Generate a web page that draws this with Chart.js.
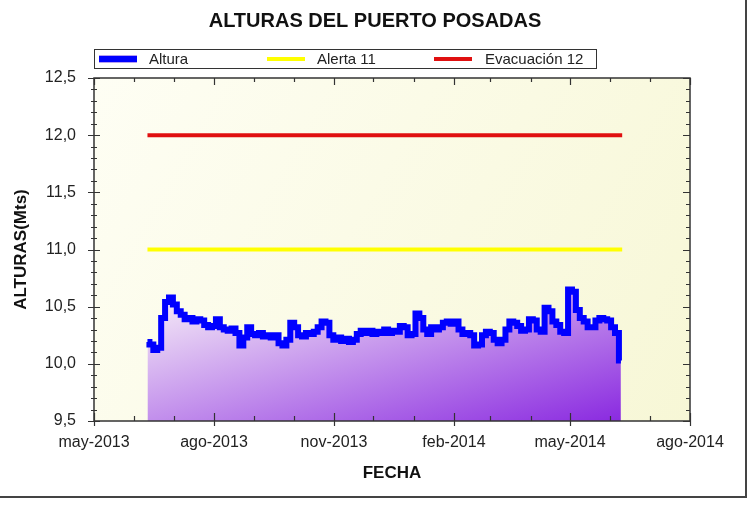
<!DOCTYPE html>
<html>
<head>
<meta charset="utf-8">
<script src="https://cdn.jsdelivr.net/npm/chart.js@4.4.1/dist/chart.umd.min.js"></script>
<style>
    html, body { margin: 0; padding: 0; background: #fff; }
    #wrap { width: 753px; height: 506px; }
</style>
</head>
<body>
<div id="wrap"><canvas id="myChart" width="753" height="506"></canvas></div>
<script>
// axis starts on 1-may-2013, x values are days from there
const axisStart = '2013-05-01';
const axisEnd = '2014-08-01';

// altura readings, one every 3 days from 11-jun-2013
const alturaStart = '2013-06-11';
const alturaStepDays = 3;
const altura = [
    10.19, 10.17, 10.12, 10.14, 10.40, 10.54, 10.58, 10.52, 10.46, 10.43,
    10.39, 10.40, 10.37, 10.39, 10.38, 10.34, 10.32, 10.33, 10.39, 10.32,
    10.30, 10.29, 10.31, 10.27, 10.16, 10.23, 10.32, 10.26, 10.25, 10.27,
    10.24, 10.25, 10.23, 10.25, 10.18, 10.16, 10.21, 10.36, 10.32, 10.25,
    10.24, 10.27, 10.26, 10.28, 10.32, 10.37, 10.36, 10.25, 10.21, 10.23,
    10.20, 10.22, 10.19, 10.21, 10.26, 10.29, 10.27, 10.29, 10.26, 10.28,
    10.27, 10.30, 10.27, 10.29, 10.28, 10.33, 10.32, 10.25, 10.26, 10.44,
    10.40, 10.30, 10.26, 10.32, 10.30, 10.32, 10.36, 10.37, 10.35, 10.37,
    10.30, 10.26, 10.27, 10.25, 10.16, 10.17, 10.25, 10.28, 10.27, 10.21,
    10.18, 10.21, 10.30, 10.37, 10.36, 10.33, 10.29, 10.30, 10.39, 10.38,
    10.30, 10.28, 10.49, 10.46, 10.37, 10.34, 10.28, 10.27, 10.65, 10.63,
    10.47, 10.40, 10.37, 10.32, 10.32, 10.38, 10.40, 10.39, 10.38, 10.32,
    10.27, 10.03
];

// reference levels, drawn over the same period as the readings
const alertaLevel = 11;
const evacuacionLevel = 12;
const levelFrom = '2013-06-11';
const levelTo = '2014-06-10';

// axis ticks
const xTickDates = ['2013-05-01', '2013-08-01', '2013-11-01', '2014-02-01', '2014-05-01', '2014-08-01'];
const xTickLabels = ['may-2013', 'ago-2013', 'nov-2013', 'feb-2014', 'may-2014', 'ago-2014'];
const yMin = 9.5;
const yMax = 12.5;
const yStep = 0.5;

const seriesNames = ['Altura', 'Alerta 11', 'Evacuación 12'];
const seriesColors = ['#0000ff', '#ffff00', '#e01010'];

function dayOf(str) {
    return (Date.parse(str + 'T00:00:00Z') - Date.parse(axisStart + 'T00:00:00Z')) / 86400000;
}

const alturaPoints = altura.map((v, i) => ({x: dayOf(alturaStart) + i * alturaStepDays, y: v}));
const alertaPoints = [{x: dayOf(levelFrom), y: alertaLevel}, {x: dayOf(levelTo), y: alertaLevel}];
const evacPoints = [{x: dayOf(levelFrom), y: evacuacionLevel}, {x: dayOf(levelTo), y: evacuacionLevel}];

// monthly minor ticks along the x axis
const monthDays = [];
for (let m = 0; m <= 15; m++) {
    const d = new Date(Date.UTC(2013, 4 + m, 1));
    monthDays.push(dayOf(d.toISOString().slice(0, 10)));
}

// purple fill under the altura line (diagonal, like the original)
function alturaFill(context) {
    const chart = context.chart;
    const area = chart.chartArea;
    if (!area) return 'rgba(160,100,220,0.6)';
    const xs = chart.scales.x, ys = chart.scales.y;
    const x0 = xs.getPixelForValue(alturaPoints[0].x);
    const x1 = xs.getPixelForValue(alturaPoints[alturaPoints.length - 1].x);
    const y0 = ys.getPixelForValue(Math.max(...altura));
    const y1 = area.bottom;
    const w = x1 - x0, h = y1 - y0;
    const len = Math.sqrt(w * w + h * h);
    const proj = (2 * w * h) / len;
    const g = chart.ctx.createLinearGradient(x0, y0, x0 + h / len * proj, y0 + w / len * proj);
    g.addColorStop(0, '#faf4f8');
    g.addColorStop(1, '#8a2ae0');
    return g;
}

const framePlugin = {
    id: 'frame',
    beforeDraw(chart) {
        const {ctx, chartArea: a} = chart;
        ctx.save();
        ctx.fillStyle = '#fff';
        ctx.fillRect(0, 0, chart.width, chart.height);
        const g = ctx.createLinearGradient(a.left, a.top, a.right, a.bottom);
        g.addColorStop(0, '#fefef4');
        g.addColorStop(1, '#f7f7d6');
        ctx.fillStyle = g;
        ctx.fillRect(a.left, a.top, a.right - a.left, a.bottom - a.top);
        ctx.restore();
    },
    afterDraw(chart) {
        const {ctx, chartArea: a} = chart;
        const xs = chart.scales.x, ys = chart.scales.y;
        ctx.save();
        ctx.strokeStyle = '#333';
        ctx.lineWidth = 1.5;
        ctx.strokeRect(a.left, a.top, a.right - a.left, a.bottom - a.top);

        ctx.lineWidth = 1.2;
        ctx.beginPath();
        // y ticks, every 0.1, major on 0.5
        for (let k = 0; k <= Math.round((yMax - yMin) * 10); k++) {
            const v = yMin + k / 10;
            const y = Math.round(ys.getPixelForValue(v)) + 0.5;
            const major = k % 5 === 0;
            ctx.moveTo(a.left - (major ? 6 : 3), y);
            ctx.lineTo(a.left + (major ? 6 : 3), y);
            ctx.moveTo(a.right, y);
            ctx.lineTo(a.right - (major ? 7 : 4), y);
        }
        // x ticks, monthly, major on labelled months
        const majors = xTickDates.map(dayOf);
        monthDays.forEach(d => {
            const x = Math.round(xs.getPixelForValue(d)) + 0.5;
            const major = majors.includes(d);
            ctx.moveTo(x, a.bottom + (major ? 5 : 0));
            ctx.lineTo(x, a.bottom - (major ? 8 : 5));
            ctx.moveTo(x, a.top);
            ctx.lineTo(x, a.top + (major ? 7 : 4));
        });
        ctx.stroke();

        // outer frame on right and bottom
        ctx.strokeStyle = '#444';
        ctx.lineWidth = 2;
        ctx.beginPath();
        ctx.moveTo(746, 0);
        ctx.lineTo(746, 497);
        ctx.lineTo(0, 497);
        ctx.stroke();

        // title
        ctx.fillStyle = '#111';
        ctx.font = 'bold 20px "Liberation Sans", Arial, sans-serif';
        ctx.textAlign = 'center';
        ctx.textBaseline = 'middle';
        ctx.fillText('ALTURAS DEL PUERTO POSADAS', 375, 21);

        // legend box
        ctx.fillStyle = '#fff';
        ctx.fillRect(94, 49, 502, 19);
        ctx.strokeStyle = '#333';
        ctx.lineWidth = 1;
        ctx.strokeRect(94.5, 49.5, 502, 19);
        const swX = [99, 267, 434];
        const txX = [149, 317, 485];
        const swW = [6, 4, 4];
        ctx.font = '15px "Liberation Sans", Arial, sans-serif';
        ctx.textAlign = 'left';
        seriesNames.forEach((name, i) => {
            if (i === 0) {
                ctx.strokeStyle = '#b7a0f0';
                ctx.lineWidth = swW[i] + 2;
                ctx.beginPath();
                ctx.moveTo(swX[i], 59);
                ctx.lineTo(swX[i] + 38, 59);
                ctx.stroke();
            }
            ctx.strokeStyle = seriesColors[i];
            ctx.lineWidth = swW[i];
            ctx.beginPath();
            ctx.moveTo(swX[i], 59);
            ctx.lineTo(swX[i] + 38, 59);
            ctx.stroke();
            ctx.fillStyle = '#222';
            ctx.fillText(name, txX[i], 59.5);
        });
        ctx.restore();
    }
};

new Chart(document.getElementById('myChart').getContext('2d'), {
    type: 'line',
    data: {
        datasets: [{
            label: seriesNames[0],
            data: alturaPoints,
            borderColor: seriesColors[0],
            borderWidth: 6,
            backgroundColor: alturaFill,
            fill: 'start',
            pointRadius: 0,
            stepped: 'middle'
        }, {
            label: seriesNames[1],
            data: alertaPoints,
            borderColor: seriesColors[1],
            borderWidth: 4,
            pointRadius: 0,
            fill: false
        }, {
            label: seriesNames[2],
            data: evacPoints,
            borderColor: seriesColors[2],
            borderWidth: 4,
            pointRadius: 0,
            fill: false
        }]
    },
    options: {
        responsive: false,
        animation: false,
        devicePixelRatio: 1,
        layout: {padding: {left: 0, top: 78, right: 63, bottom: 0}},
        plugins: {
            legend: {display: false},
            title: {display: false},
            tooltip: {enabled: false}
        },
        scales: {
            x: {
                type: 'linear',
                min: dayOf(axisStart),
                max: dayOf(axisEnd),
                afterBuildTicks: s => { s.ticks = xTickDates.map(d => ({value: dayOf(d)})); },
                afterFit: s => { s.height = 85; },
                grid: {display: false},
                border: {display: false},
                ticks: {
                    autoSkip: false,
                    maxRotation: 0,
                    padding: 4,
                    color: '#222',
                    font: {family: '"Liberation Sans", Arial, sans-serif', size: 16},
                    callback: (v, i) => xTickLabels[i]
                },
                title: {
                    display: true,
                    text: 'FECHA',
                    color: '#111',
                    font: {family: '"Liberation Sans", Arial, sans-serif', size: 17, weight: 'bold'},
                    padding: {top: 0, bottom: 22}
                }
            },
            y: {
                min: yMin,
                max: yMax,
                afterFit: s => { s.width = 94; },
                grid: {display: false},
                border: {display: false},
                ticks: {
                    stepSize: yStep,
                    padding: 10,
                    color: '#222',
                    font: {family: '"Liberation Sans", Arial, sans-serif', size: 16},
                    callback: v => v.toFixed(1).replace('.', ',')
                },
                title: {
                    display: true,
                    text: 'ALTURAS(Mts)',
                    color: '#111',
                    font: {family: '"Liberation Sans", Arial, sans-serif', size: 17, weight: 'bold'},
                    padding: {top: 11, bottom: 0}
                }
            }
        }
    },
    plugins: [framePlugin]
});
</script>
</body>
</html>
